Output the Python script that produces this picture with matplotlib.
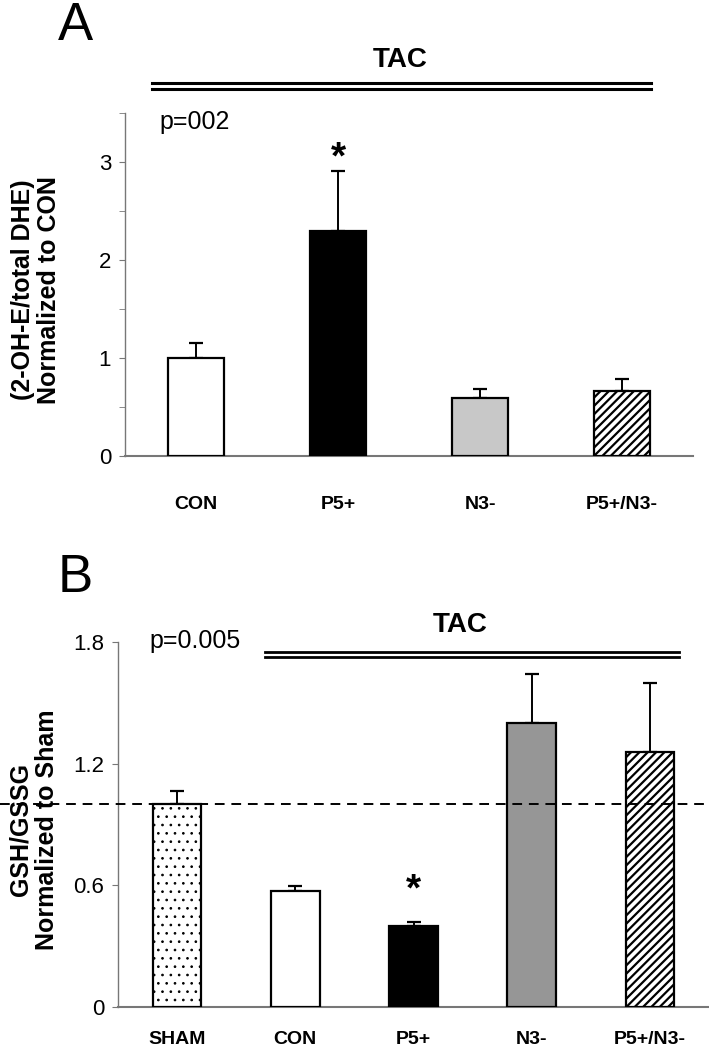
import matplotlib
matplotlib.use('Agg')
import matplotlib.pyplot as plt
from matplotlib.lines import Line2D

plt.rcParams['font.family'] = ['Liberation Sans', 'DejaVu Sans']
plt.rcParams['hatch.linewidth'] = 1.6

# panel A data
groups_a = ['CON', 'P5+', 'N3-', 'P5+/N3-']
means_a = [1.0, 2.30, 0.59, 0.66]
errs_a = [0.15, 0.61, 0.09, 0.13]
colors_a = ['white', 'black', '#c8c8c8', 'white']
hatch_a = [None, None, None, '////']

# panel B data
groups_b = ['SHAM', 'CON', 'P5+', 'N3-', 'P5+/N3-']
means_b = [1.0, 0.57, 0.40, 1.40, 1.26]
errs_b = [0.065, 0.025, 0.018, 0.24, 0.34]
colors_b = ['white', 'white', 'black', '#969696', 'white']
hatch_b = ['..', None, None, None, '////']

W, H = 709, 1050
fig = plt.figure(figsize=(W / 100, H / 100), dpi=100)


def px(x0, y0, x1, y1):
    return [x0 / W, 1 - y1 / H, (x1 - x0) / W, (y1 - y0) / H]


def draw_bars(ax, groups, means, errs, colors, hatches, width, pad):
    xs = range(len(groups))
    for i in xs:
        # the dotted fill gets a finer hatch line than the stripes
        hlw = 0.7 if hatches[i] == '..' else 1.6
        with plt.rc_context({'hatch.linewidth': hlw}):
            ax.bar(i, means[i], width=width, color=colors[i], edgecolor='black',
                   linewidth=1.6, hatch=hatches[i], zorder=3)
    ax.errorbar(list(xs), means, yerr=[[0] * len(errs), errs], fmt='none',
                ecolor='black', elinewidth=1.4, capsize=5, capthick=1.6, zorder=2)
    ax.set_xlim(-0.5, len(groups) - 0.5)
    ax.set_xticks(list(xs))
    ax.set_xticklabels(groups, fontsize=14, fontweight='bold')
    ax.tick_params(axis='x', length=0, pad=pad)
    for s in ['top', 'right']:
        ax.spines[s].set_visible(False)
    ax.spines['left'].set_color('#777777')
    ax.spines['bottom'].set_color('#777777')
    ax.spines['left'].set_linewidth(1.0)
    ax.spines['bottom'].set_linewidth(1.5)
    ax.tick_params(axis='y', which='both', direction='out', length=4,
                   color='#777777', labelsize=16, pad=6)


# ---- panel A
ax1 = fig.add_axes(px(125, 113, 693, 456))
draw_bars(ax1, groups_a, means_a, errs_a, colors_a, hatch_a, 0.40, 29)
ax1.set_ylim(0, 3.5)
ax1.set_yticks([0, 1, 2, 3])
ax1.set_yticks([0.5, 1.5, 2.5, 3.5], minor=True)
ax1.text(1, means_a[1] + errs_a[1] - 0.06, '*', ha='center', va='bottom',
         fontsize=28, fontweight='bold')

fig.text(36 / W, 1 - 290 / H, '(2-OH-E/total DHE)\nNormalized to CON',
         rotation=90, fontsize=18, fontweight='bold', ha='center',
         va='center', multialignment='center', linespacing=1.15)
fig.text(58 / W, 1 - 40 / H, 'A', fontsize=38, ha='left', va='baseline')
fig.text(400 / W, 1 - 60 / H, 'TAC', fontsize=20, fontweight='bold',
         ha='center', va='center')
fig.text(159 / W, 1 - 122 / H, 'p=002', fontsize=18, ha='left', va='center')
for y in [83, 89]:
    fig.add_artist(Line2D([152 / W, 651 / W], [1 - y / H, 1 - y / H],
                          color='black', linewidth=2.2))

# ---- panel B
ax2 = fig.add_axes(px(118, 642, 709, 1007))
draw_bars(ax2, groups_b, means_b, errs_b, colors_b, hatch_b, 0.41, 17)
ax2.set_ylim(0, 1.8)
ax2.set_yticks([0, 0.6, 1.2, 1.8])
ax2.set_yticklabels(['0', '0.6', '1.2', '1.8'])
ax2.text(2, means_b[2] + errs_b[2] + 0.07, '*', ha='center', va='bottom',
         fontsize=28, fontweight='bold')

# dashed reference at sham level, runs across the whole figure width
y_ref = ax2.transData.transform((0, 1.0))[1] / H
fig.add_artist(Line2D([0, 1], [y_ref, y_ref], color='black', linewidth=1.4,
                      linestyle=(0, (5, 3.5)), zorder=5))

fig.text(34 / W, 1 - 830 / H, 'GSH/GSSG\nNormalized to Sham',
         rotation=90, fontsize=18, fontweight='bold', ha='center',
         va='center', multialignment='center', linespacing=1.15)
fig.text(58 / W, 1 - 592 / H, 'B', fontsize=38, ha='left', va='baseline')
fig.text(460 / W, 1 - 625 / H, 'TAC', fontsize=20, fontweight='bold',
         ha='center', va='center')
fig.text(149 / W, 1 - 641 / H, 'p=0.005', fontsize=18, ha='left', va='center')
for y in [652, 657]:
    fig.add_artist(Line2D([265 / W, 679 / W], [1 - y / H, 1 - y / H],
                          color='black', linewidth=2.0))

fig.savefig('out.png', dpi=100)
